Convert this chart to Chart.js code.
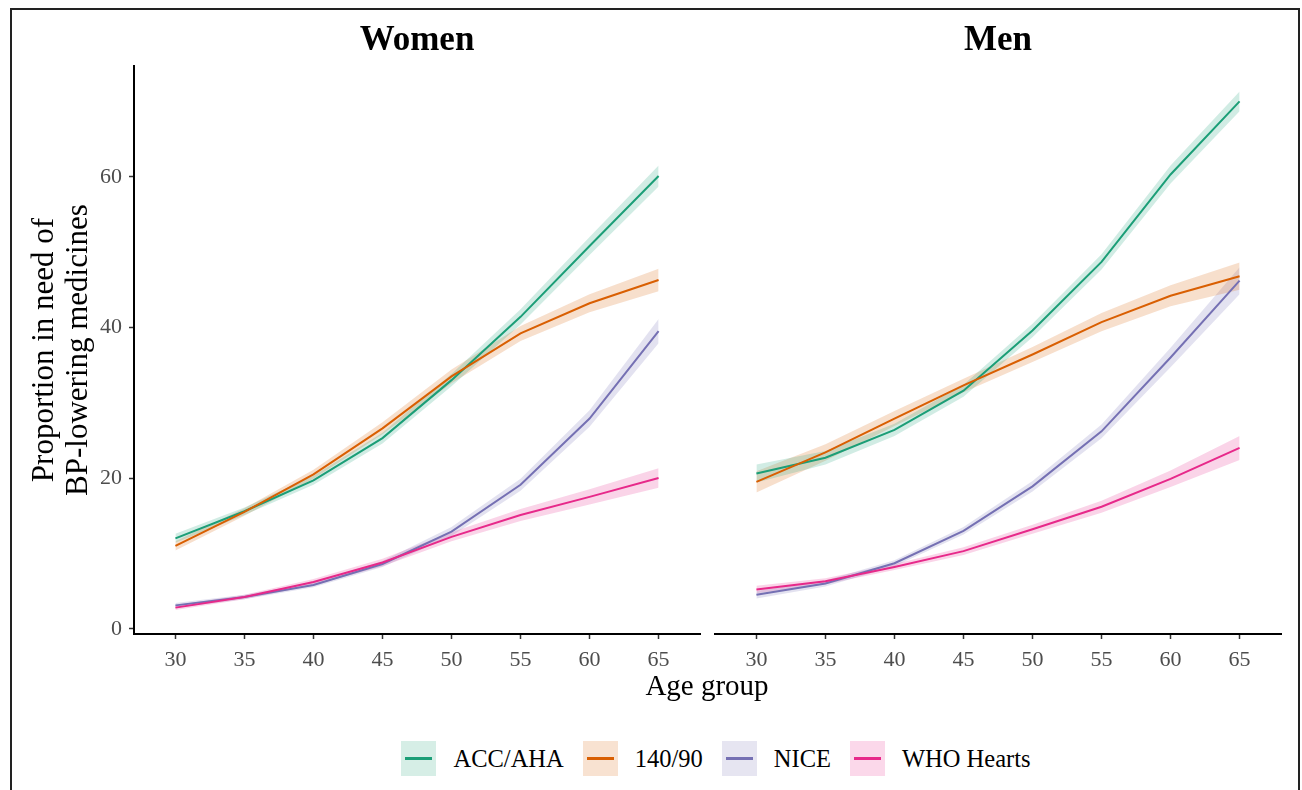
<!DOCTYPE html>
<html>
<head>
<meta charset="utf-8">
<script src="https://cdn.jsdelivr.net/npm/chart.js@4"></script>
<style>
  body { margin: 0; background: #fff; font-family: "Liberation Serif", serif; }
  #page { position: relative; width: 1302px; height: 790px; overflow: hidden; background: #fff; }
  #frame { position: absolute; left: 10px; top: 8px; width: 1290px; height: 800px; border: 2px solid #222; box-sizing: border-box; }
  .box { position: absolute; }
  .ptitle { position: absolute; top: 19px; font-weight: bold; font-size: 35px; text-align: center; width: 400px; color: #000; }
  #xtitle { position: absolute; top: 669px; left: 507px; width: 400px; text-align: center; font-size: 29px; color: #000; }
  #legend { position: absolute; top: 741px; left: 0; width: 1432px; display: flex; justify-content: center; align-items: center; font-size: 24.5px; color: #000; }
  .key { width: 35px; height: 35px; position: relative; margin-right: 17px; }
  .key span { position: absolute; left: 4px; right: 4px; top: 16px; height: 3px; }
  .lab { margin-right: 19px; }
  .lab:last-child { margin-right: 0; }
</style>
</head>
<body>
<div id="page">
  <div id="frame"></div>
  <div class="box" style="left:0;top:0;width:712px;height:674px"><canvas id="women"></canvas></div>
  <div class="box" style="left:705px;top:0;width:590px;height:674px"><canvas id="men"></canvas></div>
  <div class="ptitle" style="left:217px">Women</div>
  <div class="ptitle" style="left:798px">Men</div>
  <div id="xtitle">Age group</div>
  <div id="legend"></div>
</div>
<script>
const ages = [30, 35, 40, 45, 50, 55, 60, 65];
const yTicks = [0, 20, 40, 60];
const names = ['ACC/AHA', '140/90', 'NICE', 'WHO Hearts'];
const colors = ['#1B9E77', '#D95F02', '#7570B3', '#E7298A'];

// women
const wAcc  = [12.0, 15.6, 19.7, 25.3, 33.0, 41.4, 50.8, 60.1];
const wBp   = [11.0, 15.5, 20.5, 26.6, 33.5, 39.2, 43.2, 46.3];
const wNice = [3.1, 4.2, 5.8, 8.6, 12.9, 19.1, 27.9, 39.5];
const wWho  = [2.8, 4.2, 6.2, 8.8, 12.2, 15.1, 17.5, 20.0];
const wAccCi  = [0.6, 0.5, 0.6, 0.7, 0.8, 1.0, 1.2, 1.4];
const wBpCi   = [0.6, 0.5, 0.6, 0.8, 0.9, 1.0, 1.2, 1.5];
const wNiceCi = [0.3, 0.3, 0.3, 0.4, 0.6, 0.8, 1.1, 1.6];
const wWhoCi  = [0.3, 0.3, 0.4, 0.5, 0.6, 0.8, 1.0, 1.3];

// men
const mAcc  = [20.6, 22.7, 26.4, 31.6, 39.6, 48.7, 60.3, 70.0];
const mBp   = [19.5, 23.4, 27.9, 32.3, 36.4, 40.7, 44.2, 46.8];
const mNice = [4.5, 6.0, 8.7, 13.0, 18.9, 26.2, 36.0, 46.2];
const mWho  = [5.2, 6.3, 8.2, 10.3, 13.2, 16.2, 19.9, 24.0];
const mAccCi  = [1.2, 0.9, 0.8, 0.8, 0.9, 1.0, 1.2, 1.3];
const mBpCi   = [1.4, 1.1, 1.0, 0.9, 1.0, 1.2, 1.4, 1.8];
const mNiceCi = [0.5, 0.4, 0.4, 0.5, 0.7, 0.9, 1.3, 1.8];
const mWhoCi  = [0.5, 0.4, 0.4, 0.5, 0.6, 0.8, 1.1, 1.6];

const font = 'Liberation Serif';

function rgba(hex, a) {
  const n = parseInt(hex.slice(1), 16);
  return `rgba(${n >> 16},${(n >> 8) & 255},${n & 255},${a})`;
}

function buildSets(vals, cis) {
  const sets = [];
  vals.forEach((v, k) => {
    const low = sets.length;
    sets.push({ data: ages.map((a, j) => ({ x: a, y: v[j] - cis[k][j] })), borderWidth: 0, borderColor: 'transparent', pointRadius: 0, fill: false, order: 10 });
    sets.push({ data: ages.map((a, j) => ({ x: a, y: v[j] + cis[k][j] })), borderWidth: 0, borderColor: 'transparent', pointRadius: 0, fill: low, backgroundColor: rgba(colors[k], 0.2), order: 10 });
  });
  vals.forEach((v, k) => {
    sets.push({ label: names[k], data: ages.map((a, j) => ({ x: a, y: v[j] })), borderColor: colors[k], borderWidth: 2, pointRadius: 0, fill: false, tension: 0, order: 4 - k });
  });
  return sets;
}

function makeChart(id, vals, cis, left) {
  const tickStyle = { color: '#4D4D4D', font: { family: font, size: 22 } };
  new Chart(document.getElementById(id), {
    type: 'line',
    data: { datasets: buildSets(vals, cis) },
    options: {
      responsive: true, maintainAspectRatio: false, animation: false,
      layout: { padding: left ? { top: 66, right: 12, left: 0, bottom: 0 } : { top: 66, right: 14, left: 10, bottom: 0 } },
      plugins: { legend: { display: false }, tooltip: { enabled: false } },
      scales: {
        x: {
          type: 'linear', min: 27, max: 68,
          afterBuildTicks: s => { s.ticks = ages.map(v => ({ value: v })); },
          afterFit: s => { s.height = 40; },
          ticks: { ...tickStyle, padding: 8, maxRotation: 0 },
          grid: { drawOnChartArea: false, drawTicks: true, tickLength: 5, tickColor: '#333', tickWidth: 1.5 },
          border: { display: true, color: '#000', width: 2 }
        },
        y: {
          display: left, min: -0.7, max: 74.7,
          afterBuildTicks: s => { s.ticks = yTicks.map(v => ({ value: v })); },
          afterFit: s => { s.width = left ? 134 : 0; },
          ticks: { ...tickStyle, padding: 7 },
          grid: { drawOnChartArea: false, drawTicks: true, tickLength: 5, tickColor: '#333', tickWidth: 1.5 },
          border: { display: true, color: '#000', width: 2 },
          title: { display: true, text: ['Proportion in need of', 'BP-lowering medicines'], color: '#000', font: { family: font, size: 31, lineHeight: 1.1 }, padding: { top: 28, bottom: 0 } }
        }
      }
    }
  });
}

makeChart('women', [wAcc, wBp, wNice, wWho], [wAccCi, wBpCi, wNiceCi, wWhoCi], true);
makeChart('men', [mAcc, mBp, mNice, mWho], [mAccCi, mBpCi, mNiceCi, mWhoCi], false);

const legend = document.getElementById('legend');
names.forEach((n, k) => {
  legend.innerHTML += `<div class="key" style="background:${rgba(colors[k], 0.18)}"><span style="background:${colors[k]}"></span></div><div class="lab">${n}</div>`;
});
</script>
</body>
</html>
